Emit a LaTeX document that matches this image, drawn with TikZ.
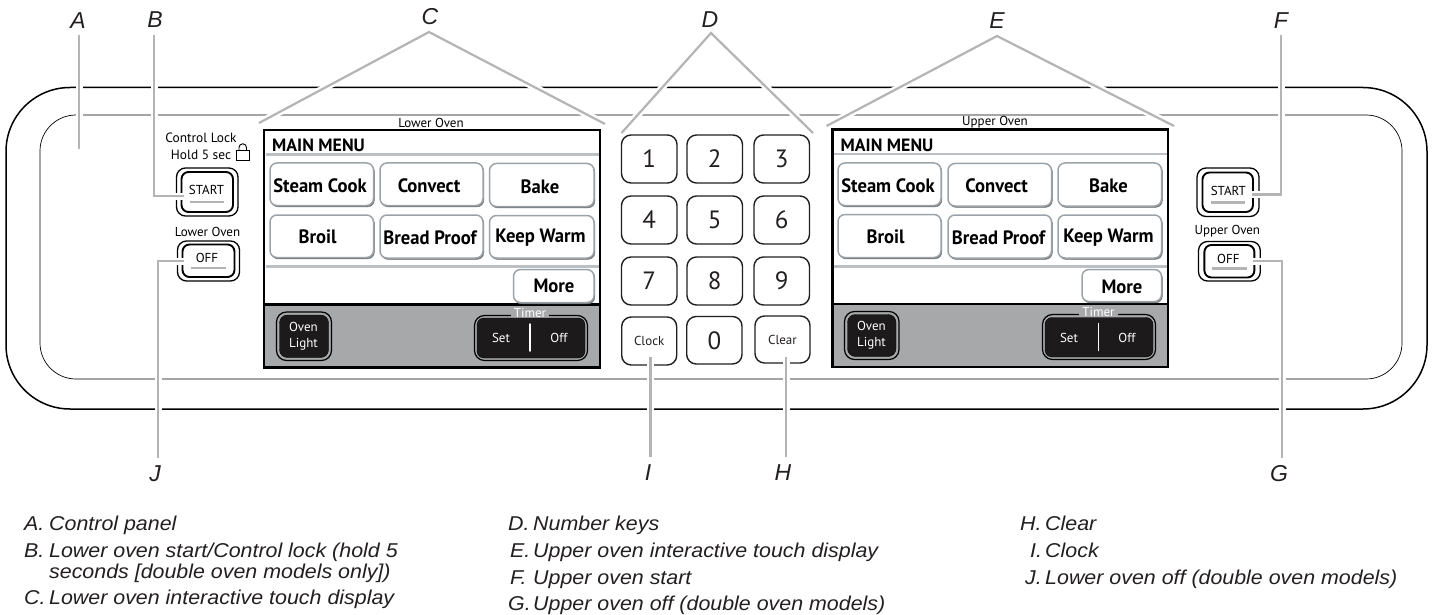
\documentclass[tikz,border=0pt]{standalone}
\usepackage{fontspec}
\setmainfont{Liberation Sans}
\newfontfamily\uifont{PT Sans}
\tikzset{
  halo/.style={draw=white,line width=7pt},
  lead/.style={draw=leadgray,line width=2.2pt,line join=miter},
  callout/.style={inner sep=0pt,text=inkblack,font=\fontsize{23}{25}\selectfont\itshape},
  legendtext/.style={inner sep=0pt,anchor=base west,text=inkblack,font=\fontsize{20}{22}\selectfont\itshape},
  small/.style={inner sep=0pt,font=\uifont\fontsize{13}{15}\selectfont},
  sep/.style={draw=sepgray,line width=2.4pt},
}
\definecolor{inkblack}{HTML}{231F20}
\definecolor{leadgray}{HTML}{B4B4B4}
\definecolor{sepgray}{HTML}{BCC0C4}
\definecolor{btnedge}{HTML}{9CA3A8}
\definecolor{btnshade}{HTML}{6F767A}
\definecolor{screengray}{HTML}{A6A8AA}
\definecolor{darkkey}{HTML}{1C1A1B}
\newcommand{\boxnode}[6]{%
  \pgfmathsetmacro{\cxx}{(#2+#4)/2}\pgfmathsetmacro{\cyy}{(#3+#5)/2}%
  \pgfmathsetmacro{\wdd}{#4-#2}\pgfmathsetmacro{\htt}{#5-#3}%
  \node[inner sep=0pt,outer sep=0pt,minimum width=\wdd pt,minimum height=\htt pt,#6] (#1) at (\cxx,\cyy) {};}
\newcommand{\menubtn}[7]{%
  \pgfmathsetmacro{\ax}{#2+1}\pgfmathsetmacro{\ay}{#3+1.5}\pgfmathsetmacro{\bx}{#4+0.9}\pgfmathsetmacro{\by}{#5+1.4}%
  \boxnode{#1s}{\ax}{\ay}{\bx}{\by}{draw=btnshade,fill=btnshade,rounded corners=7pt}%
  \boxnode{#1}{#2}{#3}{#4}{#5}{draw=btnedge,fill=white,line width=1.5pt,rounded corners=7pt}%
  \node[inner sep=0pt,font=\uifont\bfseries\fontsize{18.6}{20}\selectfont] (#1t) at (#7) {\scalebox{1}[1.04]{#6}};}
\newcommand{\numkey}[7]{%
  \boxnode{#1}{#2}{#3}{#4}{#5}{draw=inkblack,fill=white,line width=1.4pt,rounded corners=9.5pt}%
  \node[inner sep=0pt,text=inkblack,font=\uifont#7] (#1t) at (#1) {#6};}
\newcommand{\dblkey}[9]{%
  \boxnode{#1o}{#2}{#3}{#4}{#5}{draw=black,fill=white,line width=1.3pt,rounded corners=9pt}%
  \boxnode{#1}{#6}{#7}{#8}{#9}{draw=black,fill=white,line width=1.9pt,rounded corners=7pt}}
\newcommand{\leader}[1]{\draw[halo] #1; \draw[lead] #1;}
\begin{document}
\begin{tikzpicture}[x=1pt,y=-1pt]
\useasboundingbox (0,0) rectangle (1435,615);
\fill[white] (0,0) rectangle (1435,615);
% panel outlines
\boxnode{outer}{6}{87.5}{1427}{409}{draw=black,line width=1.5pt,rounded corners=64pt}
\boxnode{inner}{40}{115}{1402}{379}{draw=black,line width=0.7pt,rounded corners=36pt}

% ---------- lower display
\boxnode{lscreen}{264}{130}{600}{367.5}{draw=black,fill=white,line width=2.2pt}
\boxnode{lgray}{264}{304.5}{600}{367.5}{draw=black,fill=screengray,line width=2.2pt}
\node[small] (ltitle) at (431,123) {Lower Oven};
\node[inner sep=0pt,anchor=west,font=\uifont\bfseries\fontsize{17.8}{19}\selectfont] (lmain) at (272,145.5) {MAIN MENU};
\coordinate (ls1a) at (265.5,154.5); \coordinate (ls1b) at (599,154.5);
\coordinate (ls2a) at (265.5,266.5); \coordinate (ls2b) at (599,266.5);
\draw[sep] (ls1a) -- (ls1b); \draw[sep] (ls2a) -- (ls2b);
\menubtn{la}{270}{163}{373.5}{205.5}{Steam Cook}{320,185.5}
\menubtn{lb}{380}{163}{483}{205.5}{Convect}{429,185.5}
\menubtn{lc}{489.5}{163.5}{594}{206.5}{Bake}{540,186.5}
\menubtn{ld}{270}{215}{373.5}{257.5}{Broil}{317.5,237}
\menubtn{le}{380}{215}{483}{258}{Bread Proof}{430,238}
\menubtn{lf}{489.5}{215.5}{594}{258}{Keep Warm}{540.5,238}
\menubtn{lg}{513.5}{269.5}{594}{302.5}{More}{554,285.5}
\boxnode{lolo}{276.5}{312}{331.5}{360.5}{draw=black,line width=1.2pt,rounded corners=10pt}
\boxnode{lol}{279.5}{315}{328.5}{357.5}{draw=black,fill=darkkey,rounded corners=8pt}
\node[small,text=white,align=center,font=\uifont\fontsize{13}{16}\selectfont] (loltext) at (303.5,336) {Oven\\Light};
\boxnode{ltmo}{474.5}{315.5}{587.5}{360.5}{draw=black,line width=1.2pt,rounded corners=10pt}
\boxnode{ltm}{477}{318}{585}{358}{draw=black,fill=darkkey,rounded corners=7pt}
\node[small,fill=screengray,inner xsep=3pt,text=white] (ltmtext) at (530,312.5) {Timer};
\node[small,text=white] (lset) at (501,338) {Set};
\node[small,text=white] (loff) at (559,338) {Off};
\coordinate (ldiva) at (530,324); \coordinate (ldivb) at (530,351);
\draw[white,line width=1.5pt,line cap=round] (ldiva) -- (ldivb);

% ---------- upper display
\boxnode{uscreen}{832.5}{129.5}{1168}{367}{draw=black,fill=white,line width=2.2pt}
\boxnode{ugray}{832.5}{304}{1168}{367}{draw=black,fill=screengray,line width=2.2pt}
\node[small] (utitle) at (995,122) {Upper Oven};
\node[inner sep=0pt,anchor=west,font=\uifont\bfseries\fontsize{17.8}{19}\selectfont] (umain) at (840.5,145) {MAIN MENU};
\coordinate (us1a) at (834,154); \coordinate (us1b) at (1167,154);
\coordinate (us2a) at (834,266.5); \coordinate (us2b) at (1167,266.5);
\draw[sep] (us1a) -- (us1b); \draw[sep] (us2a) -- (us2b);
\menubtn{ua}{838}{163}{941}{205.5}{Steam Cook}{888,185.5}
\menubtn{ub}{948}{163.5}{1051.5}{206}{Convect}{996.7,185.5}
\menubtn{uc}{1058}{163}{1161.5}{206}{Bake}{1108.5,186}
\menubtn{ud}{838}{214.5}{941}{257.5}{Broil}{885.5,236.5}
\menubtn{ue}{948}{215}{1051.5}{258}{Bread Proof}{998.5,237.5}
\menubtn{uf}{1058}{215}{1161.5}{258}{Keep Warm}{1108.5,238}
\menubtn{ug}{1082}{269.5}{1161.5}{301.5}{More}{1122,287}
\boxnode{uolo}{844.5}{311.5}{899}{359.5}{draw=black,line width=1.2pt,rounded corners=10pt}
\boxnode{uol}{847.5}{314.5}{896}{356.5}{draw=black,fill=darkkey,rounded corners=8pt}
\node[small,text=white,align=center,font=\uifont\fontsize{13}{16}\selectfont] (uoltext) at (871.5,335) {Oven\\Light};
\boxnode{utmo}{1042.5}{314.5}{1155.5}{359.5}{draw=black,line width=1.2pt,rounded corners=10pt}
\boxnode{utm}{1045}{317.5}{1153}{357}{draw=black,fill=darkkey,rounded corners=7pt}
\node[small,fill=screengray,inner xsep=3pt,text=white] (utmtext) at (1098.5,312) {Timer};
\node[small,text=white] (uset) at (1069,337.5) {Set};
\node[small,text=white] (uoff) at (1127,338) {Off};
\coordinate (udiva) at (1098.5,323.5); \coordinate (udivb) at (1098.5,350.5);
\draw[white,line width=1.5pt,line cap=round] (udiva) -- (udivb);

% ---------- keypad
\def\nk{\fontsize{25}{27}\selectfont}
\numkey{k1}{621.5}{135}{677}{183}{1}{\nk}
\numkey{k2}{687}{135}{742.5}{183}{2}{\nk}
\numkey{k3}{754}{135}{809.5}{183}{3}{\nk}
\numkey{k4}{621.5}{196}{677}{244}{4}{\nk}
\numkey{k5}{687}{196}{742.5}{244}{5}{\nk}
\numkey{k6}{754}{196}{809.5}{244}{6}{\nk}
\numkey{k7}{621.5}{257}{677}{305}{7}{\nk}
\numkey{k8}{687}{257}{742.5}{305}{8}{\nk}
\numkey{k9}{754}{257}{809.5}{305}{9}{\nk}
\numkey{kclock}{621.7}{317}{676.7}{365}{Clock}{\fontsize{13}{15}\selectfont}
\numkey{k0}{686.7}{316.5}{742}{364}{0}{\nk}
\numkey{kclear}{755}{316}{810}{363}{Clear}{\fontsize{13}{15}\selectfont}

% ---------- side keys, left
\node[small,align=center,font=\uifont\fontsize{13.4}{17}\selectfont] (lock) at (201,146.5) {Control Lock\\Hold 5 sec};
\boxnode{lockbody}{236.5}{150.5}{249}{160}{draw=black,line width=0.9pt}
\draw[black,line width=0.9pt] (lockbody.north west) ++(2.5,0) -- ++(0,-3) arc[start angle=180,end angle=360,radius=3.75] -- ++(0,3);
\dblkey{lstart}{176.5}{168}{238}{216}{181.5}{172}{233}{212}
\node[small] (lstartt) at (206.5,190) {START};
\coordinate (lsua) at (190,202); \coordinate (lsub) at (224,202);
\draw[leadgray,line width=2.2pt] (lsua) -- (lsub);
\node[small] (llower) at (207.5,232) {Lower Oven};
\dblkey{loffk}{177.5}{241}{239.5}{281}{182.5}{244.5}{234.5}{277}
\node[small] (lofft) at (207,258) {OFF};
\coordinate (loua) at (191,268); \coordinate (loub) at (226,268);
\draw[leadgray,line width=2.2pt] (loua) -- (loub);

% ---------- side keys, right
\dblkey{ustart}{1197}{168}{1259}{216.5}{1202.5}{172.5}{1253}{212}
\node[small] (ustartt) at (1228.3,190.5) {START};
\coordinate (usua) at (1211.3,202.5); \coordinate (usub) at (1245.4,202.5);
\draw[leadgray,line width=2.2pt] (usua) -- (usub);
\node[small] (uupper) at (1227.3,231.5) {Upper Oven};
\dblkey{uoffk}{1198.5}{241.5}{1260.3}{281}{1204.4}{245}{1254.4}{277.5}
\node[small] (uofft) at (1228.3,259) {OFF};
\coordinate (uoua) at (1212.4,268.5); \coordinate (uoub) at (1247,268.5);
\draw[leadgray,line width=2.2pt] (uoua) -- (uoub);

% ---------- callouts
\node[callout] (A) at (78,21) {A};
\node[callout] (B) at (155,19.5) {B};
\node[callout] (C) at (430,17) {C};
\node[callout] (D) at (710,20) {D};
\node[callout] (E) at (997,21) {E};
\node[callout] (F) at (1281,21) {F};
\node[callout] (G) at (1279,474) {G};
\node[callout] (H) at (783,473) {H};
\node[callout] (I) at (648,473) {I};
\node[callout] (J) at (155,474) {J};

\coordinate (Atop) at (79,35); \coordinate (Aend) at (79,149);
\coordinate (Btop) at (154,35); \coordinate (Bend) at (184,196);
\coordinate (Capex) at (429,32); \coordinate (Cl) at (259,123); \coordinate (Cr) at (605,124);
\coordinate (Dapex) at (711,33); \coordinate (Dl) at (621.5,133); \coordinate (Dr) at (813,133);
\coordinate (Eapex) at (997,36); \coordinate (El) at (826.5,126); \coordinate (Er) at (1174,126);
\coordinate (Ftop) at (1281,35); \coordinate (Fend) at (1252,194.5);
\coordinate (Gbot) at (1282,458); \coordinate (Gend) at (1253,261);
\coordinate (Hbot) at (786,457); \coordinate (Hend) at (786,357);
\coordinate (Ibot) at (650.5,457); \coordinate (Iend) at (650.5,357);
\coordinate (Jbot) at (158,458); \coordinate (Jend) at (184,261);

\leader{(Atop) -- (Aend)}
\leader{(Btop) |- (Bend)}
\leader{(Cl) -- (Capex) -- (Cr)}
\leader{(Dl) -- (Dapex) -- (Dr)}
\leader{(El) -- (Eapex) -- (Er)}
\leader{(Ftop) |- (Fend)}
\leader{(Gbot) |- (Gend)}
\leader{(Hbot) -- (Hend)}
\leader{(Ibot) -- (Iend)}
\leader{(Jbot) |- (Jend)}

% ---------- legend
\def\lg#1{\scalebox{1.07}[1]{#1}}
\node[legendtext] (la1) at (24,530.5) {\lg{A.}};
\node[legendtext] (lb1) at (49,530.5) {\lg{Control panel}};
\node[legendtext] (la2) at (24,557) {\lg{B.}};
\node[legendtext] (lb2) at (49,557) {\lg{Lower oven start/Control lock (hold 5}};
\node[legendtext] (lb3) at (49,578) {\lg{seconds [double oven models only])}};
\node[legendtext] (la4) at (24,604) {\lg{C.}};
\node[legendtext] (lb4) at (49,604) {\lg{Lower oven interactive touch display}};
\node[legendtext] (ma1) at (508,530.5) {\lg{D.}};
\node[legendtext] (mb1) at (533,530.5) {\lg{Number keys}};
\node[legendtext] (ma2) at (510,557.5) {\lg{E.}};
\node[legendtext] (mb2) at (533,557.5) {\lg{Upper oven interactive touch display}};
\node[legendtext] (ma3) at (510,584) {\lg{F.}};
\node[legendtext] (mb3) at (533,584) {\lg{Upper oven start}};
\node[legendtext] (ma4) at (508,610) {\lg{G.}};
\node[legendtext] (mb4) at (533,610) {\lg{Upper oven off (double oven models)}};
\node[legendtext] (ra1) at (1020,530.5) {\lg{H.}};
\node[legendtext] (rb1) at (1045,530.5) {\lg{Clear}};
\node[legendtext] (ra2) at (1030,557.5) {\lg{I.}};
\node[legendtext] (rb2) at (1045,557.5) {\lg{Clock}};
\node[legendtext] (ra3) at (1025,584) {\lg{J.}};
\node[legendtext] (rb3) at (1045,584) {\lg{Lower oven off (double oven models)}};
\end{tikzpicture}
\end{document}
